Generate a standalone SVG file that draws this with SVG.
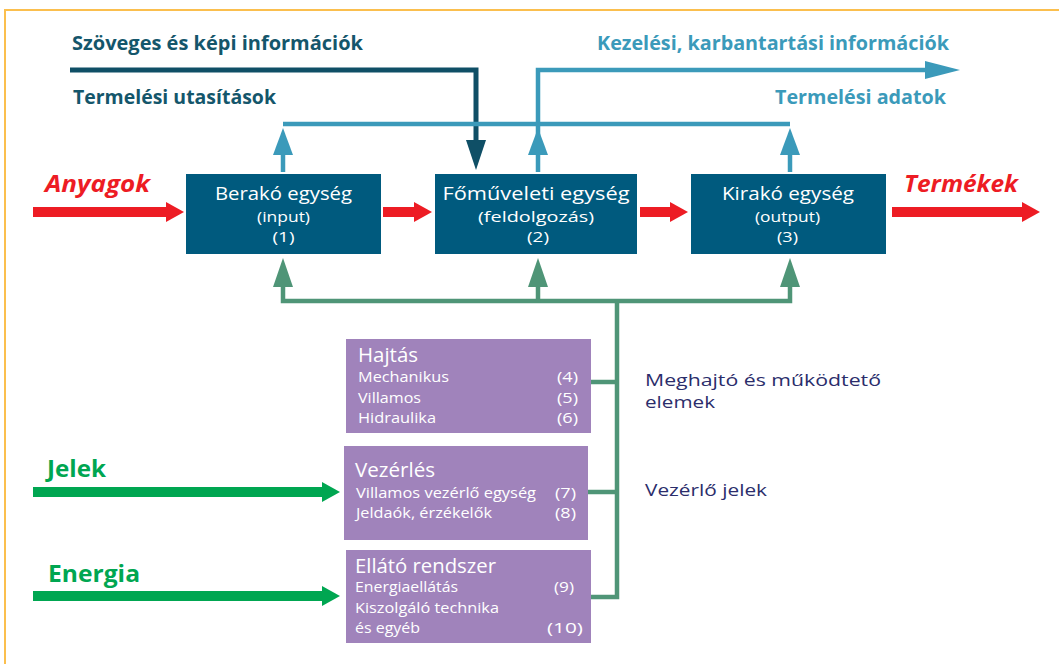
<svg xmlns="http://www.w3.org/2000/svg" width="1059" height="664" viewBox="0 0 1059 664">
<style>
text{font-family:"Open Sans","Noto Sans","DejaVu Sans",sans-serif;}
.hd{font-size:19px;font-weight:bold;}
.dk{fill:#14566b;}
.lb{fill:#3b9aba;}
.big{font-size:24px;font-weight:bold;font-style:italic;fill:#ed1c24;}
.grn{font-size:23px;font-weight:bold;fill:#00a651;}
.bt{fill:#ffffff;font-size:19px;text-anchor:middle;}
.bs{fill:#ffffff;font-size:15px;text-anchor:middle;}
.pt{fill:#ffffff;font-size:20px;}
.pi{fill:#ffffff;font-size:14px;}
.pn{fill:#ffffff;font-size:14px;}
.nv{fill:#2b2d6b;font-size:15.5px;}
.box{fill:#005a7e;}
.pbox{fill:#a083bb;}
.ldk{stroke:#0f4f66;stroke-width:5;fill:none;}
.llb{stroke:#3b9aba;stroke-width:4.5;fill:none;}
.lgr{stroke:#4f9577;stroke-width:4.5;fill:none;}
.hdk{fill:#0f4f66;}
.hlb{fill:#3b9aba;}
.hgr{fill:#4f9577;}
.red{fill:#ed1c24;}
.ga{fill:#00a651;}
</style>
<rect x="5" y="10" width="1060" height="670" fill="#ffffff" stroke="#fbbf4e" stroke-width="2"/>

<g id="connectors">
  <path class="ldk" d="M70 70 H476 V142"/>
  <polygon class="hdk" points="466,140 486,140 476,170"/>
  <path class="llb" d="M283 124 H790"/>
  <path class="llb" d="M283 172 V150"/>
  <polygon class="hlb" points="273,155 293,155 283,128"/>
  <path class="llb" d="M538 172 V70 H930"/>
  <polygon class="hlb" points="528,155 548,155 538,128"/>
  <polygon class="hlb" points="925,61 925,79 960,70"/>
  <path class="llb" d="M790 172 V150"/>
  <polygon class="hlb" points="780,155 800,155 790,128"/>
  <rect class="red" x="33" y="207" width="135" height="10"/>
  <polygon class="red" points="166,202 166,222 184,212"/>
  <rect class="red" x="383" y="207" width="33" height="10"/>
  <polygon class="red" points="414,202 414,222 432,212"/>
  <rect class="red" x="640" y="207" width="32" height="10"/>
  <polygon class="red" points="670,202 670,222 688,212"/>
  <rect class="red" x="892" y="207" width="132" height="10"/>
  <polygon class="red" points="1022,202 1022,222 1040,212"/>
  <path class="lgr" d="M283 282 V301 H790 V282"/>
  <path class="lgr" d="M538 282 V301"/>
  <polygon class="hgr" points="273,287 293,287 283,258"/>
  <polygon class="hgr" points="528,287 548,287 538,258"/>
  <polygon class="hgr" points="780,287 800,287 790,258"/>
  <path class="lgr" d="M617 299 V597 H591"/>
  <path class="lgr" d="M591 382 H617"/>
  <path class="lgr" d="M588 492 H617"/>
  <rect class="ga" x="33" y="487" width="291" height="10"/>
  <polygon class="ga" points="322,482 322,502 340,492"/>
  <rect class="ga" x="33" y="591" width="291" height="10"/>
  <polygon class="ga" points="322,586 322,606 340,596"/>
</g>

<g id="labels">
  <text class="hd dk" x="72" y="50" textLength="291" lengthAdjust="spacingAndGlyphs">Szöveges és képi információk</text>
  <text class="hd dk" x="73" y="104" textLength="203" lengthAdjust="spacingAndGlyphs">Termelési utasítások</text>
  <text class="hd lb" x="597" y="50" textLength="352" lengthAdjust="spacingAndGlyphs">Kezelési, karbantartási információk</text>
  <text class="hd lb" x="775" y="104" textLength="171" lengthAdjust="spacingAndGlyphs">Termelési adatok</text>
  <text class="big" x="45" y="192" textLength="105" lengthAdjust="spacingAndGlyphs">Anyagok</text>
  <text class="big" x="904" y="192" textLength="114" lengthAdjust="spacingAndGlyphs">Termékek</text>
  <text class="grn" x="47" y="477" textLength="59" lengthAdjust="spacingAndGlyphs">Jelek</text>
  <text class="grn" x="48" y="582" textLength="92" lengthAdjust="spacingAndGlyphs">Energia</text>
  <text class="nv" x="645" y="386" textLength="236" lengthAdjust="spacingAndGlyphs">Meghajtó és működtető</text>
  <text class="nv" x="645" y="408" textLength="70" lengthAdjust="spacingAndGlyphs">elemek</text>
  <text class="nv" x="645" y="496" textLength="122" lengthAdjust="spacingAndGlyphs">Vezérlő jelek</text>
</g>

<g id="berako">
  <rect class="box" x="186" y="174" width="195" height="80"/>
  <text class="bt" x="283.5" y="200" textLength="137" lengthAdjust="spacingAndGlyphs">Berakó egység</text>
  <text class="bs" x="283.5" y="222" textLength="53" lengthAdjust="spacingAndGlyphs">(input)</text>
  <text class="bs" x="283.5" y="242" textLength="22" lengthAdjust="spacingAndGlyphs">(1)</text>
</g>
<g id="fomuveleti">
  <rect class="box" x="435" y="174" width="202" height="80"/>
  <text class="bt" x="536" y="200" textLength="187" lengthAdjust="spacingAndGlyphs">Főműveleti egység</text>
  <text class="bs" x="536" y="222" textLength="116" lengthAdjust="spacingAndGlyphs">(feldolgozás)</text>
  <text class="bs" x="538" y="242" textLength="22" lengthAdjust="spacingAndGlyphs">(2)</text>
</g>
<g id="kirako">
  <rect class="box" x="691" y="174" width="195" height="80"/>
  <text class="bt" x="788" y="200" textLength="132" lengthAdjust="spacingAndGlyphs">Kirakó egység</text>
  <text class="bs" x="787.5" y="222" textLength="65" lengthAdjust="spacingAndGlyphs">(output)</text>
  <text class="bs" x="787.5" y="242" textLength="21" lengthAdjust="spacingAndGlyphs">(3)</text>
</g>

<g id="hajtas">
  <rect class="pbox" x="346" y="339" width="245" height="94"/>
  <text class="pt" x="358" y="362" textLength="60" lengthAdjust="spacingAndGlyphs">Hajtás</text>
  <text class="pi" x="358" y="382" textLength="91" lengthAdjust="spacingAndGlyphs">Mechanikus</text>
  <text class="pi" x="358" y="403" textLength="63" lengthAdjust="spacingAndGlyphs">Villamos</text>
  <text class="pi" x="358" y="423" textLength="78" lengthAdjust="spacingAndGlyphs">Hidraulika</text>
  <text class="pn" x="557" y="382" textLength="21" lengthAdjust="spacingAndGlyphs">(4)</text>
  <text class="pn" x="557" y="403" textLength="21" lengthAdjust="spacingAndGlyphs">(5)</text>
  <text class="pn" x="557" y="423" textLength="21" lengthAdjust="spacingAndGlyphs">(6)</text>
</g>
<g id="vezerles">
  <rect class="pbox" x="344" y="446" width="244" height="94"/>
  <text class="pt" x="355" y="477" textLength="80" lengthAdjust="spacingAndGlyphs">Vezérlés</text>
  <text class="pi" x="356" y="498" textLength="180" lengthAdjust="spacingAndGlyphs">Villamos vezérlő egység</text>
  <text class="pi" x="356" y="518" textLength="136" lengthAdjust="spacingAndGlyphs">Jeldaók, érzékelők</text>
  <text class="pn" x="555" y="498" textLength="21" lengthAdjust="spacingAndGlyphs">(7)</text>
  <text class="pn" x="555" y="518" textLength="21" lengthAdjust="spacingAndGlyphs">(8)</text>
</g>
<g id="ellato">
  <rect class="pbox" x="346" y="550" width="245" height="93"/>
  <text class="pt" x="355" y="573" textLength="141" lengthAdjust="spacingAndGlyphs">Ellátó rendszer</text>
  <text class="pi" x="355" y="592" textLength="103" lengthAdjust="spacingAndGlyphs">Energiaellátás</text>
  <text class="pi" x="355" y="613" textLength="144" lengthAdjust="spacingAndGlyphs">Kiszolgáló technika</text>
  <text class="pi" x="355" y="633" textLength="65" lengthAdjust="spacingAndGlyphs">és egyéb</text>
  <text class="pn" x="554" y="592" textLength="20" lengthAdjust="spacingAndGlyphs">(9)</text>
  <text class="pn" x="547" y="633" textLength="36" lengthAdjust="spacingAndGlyphs">(10)</text>
</g>
</svg>
